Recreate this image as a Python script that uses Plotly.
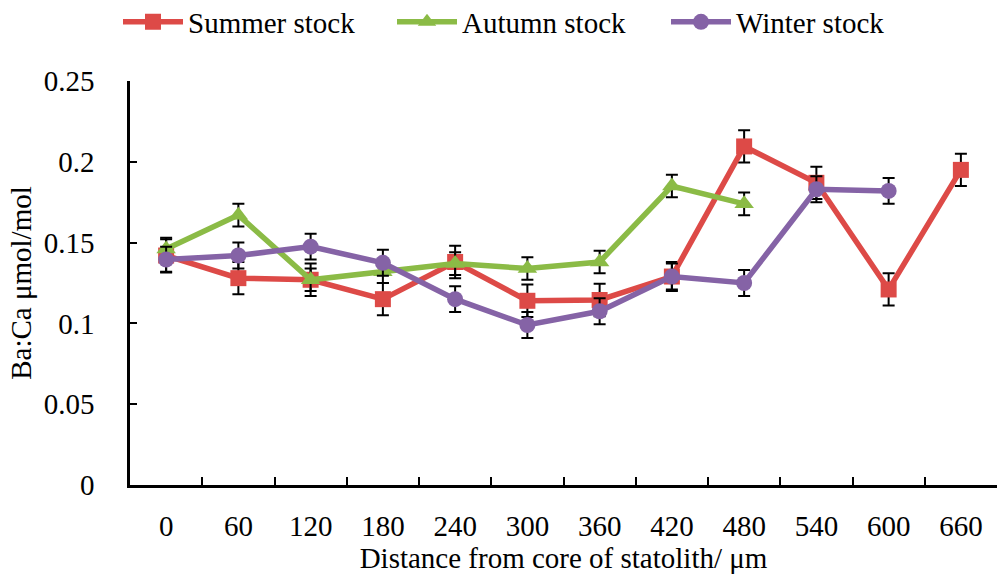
import plotly.graph_objects as go

# Distance from the statolith core (µm), used as categories
distance = ["0", "60", "120", "180", "240", "300", "360", "420", "480", "540", "600", "660"]

# Ba:Ca ratios (µmol/mol) and their standard errors per stock
summer = [0.142, 0.128, 0.127, 0.115, 0.138, 0.114, 0.1145, 0.129, 0.2095, 0.187, 0.121, 0.195]
summer_err = [0.010, 0.010, 0.010, 0.010, 0.010, 0.010, 0.010, 0.009, 0.010, 0.010, 0.010, 0.010]

autumn = [0.146, 0.167, 0.127, 0.132, 0.137, 0.134, 0.138, 0.185, 0.174]
autumn_err = [0.007, 0.007, 0.007, 0.007, 0.007, 0.007, 0.007, 0.007, 0.007]

winter = [0.1395, 0.142, 0.1475, 0.1375, 0.115, 0.099, 0.1075, 0.129, 0.125, 0.183, 0.182]
winter_err = [0.008, 0.008, 0.008, 0.008, 0.008, 0.008, 0.008, 0.008, 0.008, 0.008, 0.008]

FONT = "Liberation Serif, Times New Roman, serif"
FS = 29

series = [
    ("Summer stock", summer, summer_err, "#DD4A47", "square", 16),
    ("Autumn stock", autumn, autumn_err, "#8BBB46", "triangle-up", 17),
    ("Winter stock", winter, winter_err, "#8563A6", "circle", 16),
]

fig = go.Figure()
for name, vals, errs, color, symbol, size in series:
    fig.add_trace(go.Scatter(
        x=distance[:len(vals)],
        y=vals,
        name=name,
        mode="lines+markers",
        line=dict(color=color, width=5.5),
        marker=dict(color=color, symbol=symbol, size=size),
        error_y=dict(type="data", array=errs, visible=True,
                     color="black", thickness=2, width=6),
    ))

fig.update_layout(
    width=1000,
    height=578,
    paper_bgcolor="white",
    plot_bgcolor="white",
    margin=dict(l=130, r=3, t=81, b=93, autoexpand=False),
    font=dict(family=FONT, size=FS, color="black"),
    legend=dict(
        orientation="h",
        xref="container", yref="container",
        x=0.529, xanchor="center",
        y=0.962, yanchor="middle",
        itemwidth=60,
        entrywidth=199,
        entrywidthmode="pixels",
        font=dict(family=FONT, size=FS, color="black"),
        bgcolor="rgba(0,0,0,0)",
    ),
    xaxis=dict(
        type="category",
        categoryorder="array",
        categoryarray=distance,
        range=[-0.5, 11.5],
        tickson="boundaries",
        ticks="inside",
        ticklen=8,
        tickwidth=2,
        tickcolor="black",
        showline=True,
        linecolor="black",
        linewidth=2.5,
        showgrid=False,
        zeroline=False,
        tickangle=0,
        ticklabelstandoff=13,
        tickfont=dict(family=FONT, size=FS, color="black"),
        title=dict(text="Distance from core of statolith/ μm",
                   font=dict(family=FONT, size=FS, color="black"),
                   standoff=1),
    ),
    yaxis=dict(
        range=[0, 0.25],
        tickvals=[0, 0.05, 0.1, 0.15, 0.2, 0.25],
        ticktext=["0", "0.05", "0.1", "0.15", "0.2", "0.25"],
        ticks="inside",
        ticklen=7,
        tickwidth=2,
        tickcolor="black",
        showline=True,
        linecolor="black",
        linewidth=2.5,
        showgrid=False,
        zeroline=False,
        ticklabelstandoff=27,
        tickfont=dict(family=FONT, size=FS, color="black"),
        title=dict(text="Ba:Ca μmol/mol",
                   font=dict(family=FONT, size=FS, color="black"),
                   standoff=4),
    ),
)

fig.write_html("out.html")
